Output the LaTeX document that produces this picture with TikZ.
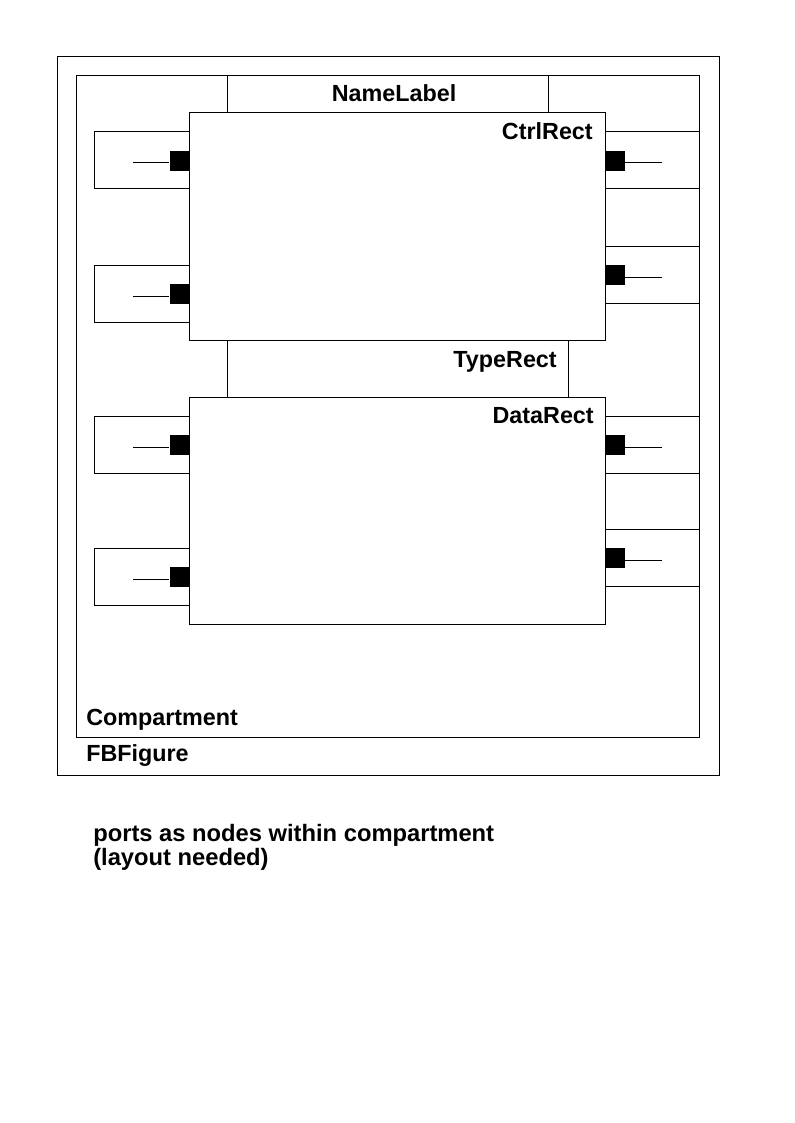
\documentclass[tikz,border=0pt]{standalone}
\usepackage{fontspec}
\setmainfont{Liberation Sans}

\begin{document}
\begin{tikzpicture}[x=0.75pt,y=-0.75pt]
        \tikzset{
            ret/.style={
                draw=none,
                fill=black,
                minimum width=15pt,
                minimum height=15pt,
                inner sep=0pt
            },
            rot/.style={
                inner sep=0pt,
                font=\fontsize{17.5}{18}\selectfont\bfseries
            }
        }
        \useasboundingbox (0,0) rectangle (794,1123);

        \draw[black, line width=0.75pt] (57,57) rectangle (719,775);   % FBFigure
        \draw[black, line width=0.75pt] (76,76) rectangle (699,737);   % Compartment
        \draw[black, line width=0.75pt] (227,76) rectangle (548,113);  % NameLabel
        \draw[black, line width=0.75pt] (227,340) rectangle (568,397); % TypeRect

        \foreach \t [count=\i] in {132,265,416,548} { %PORTAS ESQUERDA
            \draw[black, line width=0.75pt] (94,\t) rectangle (189,\t+57);
            \node[ret] (pe\i) at (179.5,\t+29) {};
            \coordinate (pex\i) at (133,\t+31);
            \draw[black, line width=0.75pt] (pex\i) -- (pex\i -| pe\i.west);
        }
        \foreach \t [count=\i] in {132,246,416,529} { %PORTAS DIREITA
            \draw[black, line width=0.75pt] (605,\t) rectangle (699,\t+57);
            \node[ret] (pd\i) at (615,\t+29) {};
            \coordinate (pdx\i) at (662,\t+31);
            \draw[black, line width=0.75pt] (pd\i.east |- pdx\i) -- (pdx\i);
        }

        \draw[black, fill=white, line width=0.75pt] (189,113) rectangle (605,340); % CtrlRect
        \draw[black, fill=white, line width=0.75pt] (189,397) rectangle (605,624); % DataRect
        \foreach \i in {1,2,3,4} { %QUADRADOS
            \node[ret] at (pe\i) {};
            \node[ret] at (pd\i) {};
        }

        \node[rot, anchor=base] (namelabel) at (394,102) {NameLabel};
        \node[rot, anchor=base east] (ctrlrect) at (593,140) {CtrlRect};
        \node[rot, anchor=base east] (typerect) at (557,367) {TypeRect};
        \node[rot, anchor=base east] (datarect) at (594,423) {DataRect};
        \node[rot, anchor=base west] (compartment) at (86,725) {Compartment};
        \node[rot, anchor=base west] (fbfigure) at (86,761) {FBFigure};
        \node[rot, anchor=base west, align=left,
              font=\fontsize{17.8}{18}\selectfont\bfseries] (nota) at (93,865)
            {ports as nodes within compartment\\(layout needed)};

    \end{tikzpicture}
\end{document}
